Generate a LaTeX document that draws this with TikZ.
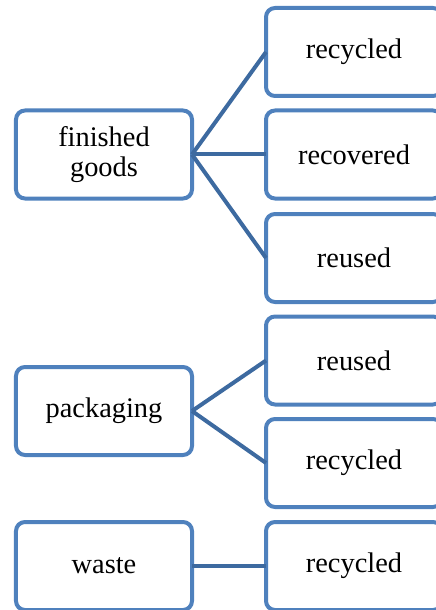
\documentclass[tikz,border=0pt]{standalone}
\usepackage{fontspec}
\setmainfont{Liberation Serif}
\definecolor{boxblue}{HTML}{4F81BD}
\definecolor{linkblue}{HTML}{3D6AA0}
\begin{document}
\begin{tikzpicture}[x=1bp,y=-1bp,
  item/.style={draw=boxblue, line width=4bp, rounded corners=9bp, fill=white,
    minimum width=176bp, minimum height=88bp, inner sep=0pt, outer sep=0pt,
    align=center, font=\fontsize{28.5}{30}\selectfont},
  link/.style={draw=linkblue, line width=4bp}]
\useasboundingbox (0,0) rectangle (436,610);
\clip (0,0) rectangle (436,610);
% sources
\node[item] (fg)  at (104,154.5) {finished\\goods};
\node[item] (pk)  at (104,411) {packaging};
\node[item] (ws)  at (104,566) {waste};
% outcomes
\node[item] (fg1) at (354,52)    {recycled};
\node[item] (fg2) at (354,154.5) {recovered};
\node[item] (fg3) at (354,258)   {reused};
\node[item] (pk1) at (354,360.5) {reused};
\node[item] (pk2) at (354,463)   {recycled};
\node[item] (ws1) at (354,566)   {recycled};
% connectors
\draw[link] (fg.east) -- (fg1.west);
\draw[link] (fg.east) -- (fg2.west);
\draw[link] (fg.east) -- (fg3.west);
\draw[link] (pk.east) -- (pk1.west);
\draw[link] (pk.east) -- (pk2.west);
\draw[link] (ws.east) -- (ws1.west);
\end{tikzpicture}
\end{document}
